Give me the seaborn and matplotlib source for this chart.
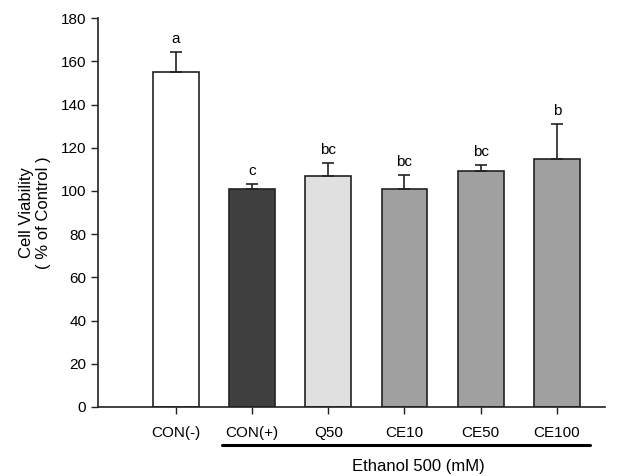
import matplotlib
matplotlib.use("Agg")
import matplotlib.pyplot as plt
import numpy as np
import pandas as pd
import seaborn as sns

groups = ["CON(-)", "CON(+)", "Q50", "CE10", "CE50", "CE100"]
viability = [155.2, 100.9, 107.0, 101.0, 109.3, 114.9]
sd = [9.2, 2.4, 6.0, 6.5, 2.8, 16.2]
letters = ["a", "c", "bc", "bc", "bc", "b"]
colors = ["#ffffff", "#404040", "#e0e0e0", "#a0a0a0", "#a0a0a0", "#a0a0a0"]

df = pd.DataFrame({"group": groups, "viability": viability, "sd": sd})

sns.set_theme(style="ticks")
plt.rcParams["font.family"] = ["Liberation Sans", "DejaVu Sans"]
plt.rcParams["text.color"] = "black"
plt.rcParams["xtick.color"] = "#222222"
plt.rcParams["ytick.color"] = "#222222"
plt.rcParams["xtick.labelcolor"] = "black"
plt.rcParams["ytick.labelcolor"] = "black"
plt.rcParams["axes.labelcolor"] = "black"

fig = plt.figure(figsize=(6.21, 4.76), dpi=100)
ax = fig.add_axes([0.158, 0.145, 0.816, 0.817])

sns.barplot(data=df, x="group", y="viability", hue="group", palette=colors,
            width=0.6, edgecolor="#222222", linewidth=1.2, legend=False, ax=ax)

pos = np.arange(len(groups))
ax.errorbar(pos, viability, yerr=[np.zeros(len(sd)), sd], fmt="none",
            ecolor="#222222", elinewidth=1.2, capsize=4.5, capthick=1.2)

for x, v, s, t in zip(pos, viability, sd, letters):
    ax.text(x, v + s + 2.5, t, ha="center", va="bottom", fontsize=11)

ax.set_ylim(0, 180)
ax.set_yticks(range(0, 181, 20))
ax.set_xlim(-1.02, 5.63)
ax.set_xlabel("")
ax.set_ylabel("Cell Viability\n( % of Control )", fontsize=12, labelpad=7)
ax.tick_params(axis="both", labelsize=11, direction="out", length=5, width=1)
ax.tick_params(axis="x", pad=9)
sns.despine(ax=ax)
for sp in ["left", "bottom"]:
    ax.spines[sp].set_color("#222222")
    ax.spines[sp].set_linewidth(1.2)

# bracket under the ethanol-treated groups
fig.add_artist(plt.Line2D([222 / 621, 590 / 621], [1 - 445 / 476, 1 - 445 / 476],
                          color="black", lw=2.2))
fig.text(418 / 621, 1 - 466 / 476, "Ethanol 500 (mM)", ha="center", va="center", fontsize=12)

plt.savefig("out.png", dpi=100)
plt.close()
